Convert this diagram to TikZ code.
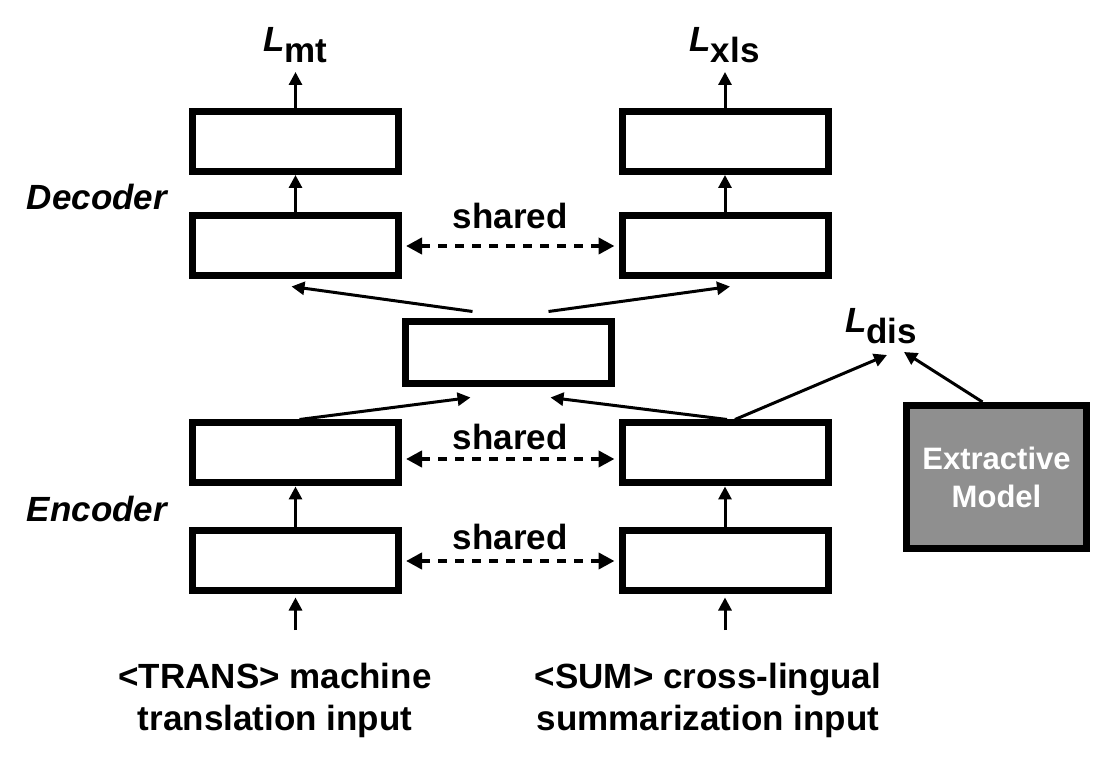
\documentclass[tikz,border=0pt]{standalone}
\usepackage{fontspec}
\setmainfont{Liberation Sans}
\usetikzlibrary{arrows.meta}
\tikzset{
  blk/.style={draw,line width=3.5pt,minimum width=103pt,minimum height=30pt,inner sep=0pt},
  arr/.style={-{Triangle[length=6.5pt,width=6.5pt]},line width=1.5pt},
  shr/.style={{Triangle[length=8pt,width=8pt]}-{Triangle[length=8pt,width=8pt]},line width=2pt,dash pattern=on 4.5pt off 4pt},
  lbl/.style={font=\fontsize{17.5}{21}\selectfont\bfseries}
}
\newcommand{\lossname}[1]{\textit{L}\raisebox{-5.5pt}{#1}}
\begin{document}
\begin{tikzpicture}[x=0.5pt,y=-0.5pt]
\useasboundingbox (0,0) rectangle (1108,774);
% boxes
\node[blk] (decTL) at (295.5,141.5) {};
\node[blk] (decBL) at (295.5,246) {};
\node[blk] (decTR) at (725,141.5) {};
\node[blk] (decBR) at (725,246) {};
\node[blk,minimum height=31pt] (mid) at (508.5,353) {};
\node[blk] (encTL) at (295.5,453) {};
\node[blk] (encBL) at (295.5,561) {};
\node[blk] (encTR) at (725,453) {};
\node[blk] (encBR) at (725,561) {};
\node[draw,line width=3.5pt,fill=black!44,minimum width=90pt,minimum height=71.5pt,align=center,text=white,font=\fontsize{15.5}{19}\selectfont\bfseries] (ext) at (996.5,477) {Extractive\\Model};
% labels
\node[lbl,anchor=base] (lmt) at (295.5,52) {\lossname{mt}};
\node[lbl,anchor=base] (lxls) at (724.5,52) {\lossname{xls}};
\node[lbl,anchor=base] (ldis) at (881,333) {\lossname{dis}};
\node[lbl,font=\fontsize{17.5}{21}\selectfont\bfseries\itshape] (dec) at (97,197) {Decoder};
\node[lbl,font=\fontsize{17.5}{21}\selectfont\bfseries\itshape] (enc) at (97,509) {Encoder};
\node[lbl,align=center] (inL) at (275,700) {<TRANS> machine\\translation input};
\node[lbl,align=center] (inR) at (708,700) {<SUM> cross-lingual\\summarization input};
\coordinate (inLtop) at (295.5,630);
\coordinate (inRtop) at (725,630);
\coordinate (lmttip) at (295.5,72);
\coordinate (lxlstip) at (725,72);
\coordinate (ldisA) at (887,355);
\coordinate (ldisB) at (904,352);
% vertical flow
\draw[arr] (inLtop) -- ([yshift=-1.5pt]encBL.south);
\draw[arr] (inRtop) -- ([yshift=-1.5pt]encBR.south);
\draw[arr] (encBL) -- (encTL);
\draw[arr] (encBR) -- (encTR);
\draw[arr] (decBL) -- (decTL);
\draw[arr] (decBR) -- (decTR);
\draw[arr] (decTL.north) -- (lmttip);
\draw[arr] (decTR.north) -- (lxlstip);
% to and from the middle box
\draw[arr] ([xshift=2pt]encTL.north) -- ([xshift=-19pt,yshift=-5pt]mid.south);
\draw[arr] ([xshift=1pt]encTR.north) -- ([xshift=21pt,yshift=-5pt]mid.south);
\draw[arr] ([xshift=-18pt,yshift=3.5pt]mid.north) -- ([xshift=-2pt,yshift=-3.5pt]decBL.south);
\draw[arr] ([xshift=20pt,yshift=3.5pt]mid.north) -- ([xshift=2.5pt,yshift=-3.5pt]decBR.south);
\draw[arr] ([xshift=5pt]encTR.north) -- (ldisA);
\draw[arr] ([xshift=-7pt]ext.north) -- (ldisB);
% shared layers
\draw[shr] ([xshift=2pt]decBL.east) -- ([xshift=-2pt]decBR.west) node[midway,above=4pt,lbl] (sh1) {shared};
\draw[shr] ([xshift=2pt,yshift=-3pt]encTL.east) -- ([xshift=-2pt,yshift=-3pt]encTR.west) node[midway,above=0pt,lbl] (sh2) {shared};
\draw[shr] ([xshift=2pt]encBL.east) -- ([xshift=-2pt]encBR.west) node[midway,above=1pt,lbl] (sh3) {shared};
\end{tikzpicture}
\end{document}
